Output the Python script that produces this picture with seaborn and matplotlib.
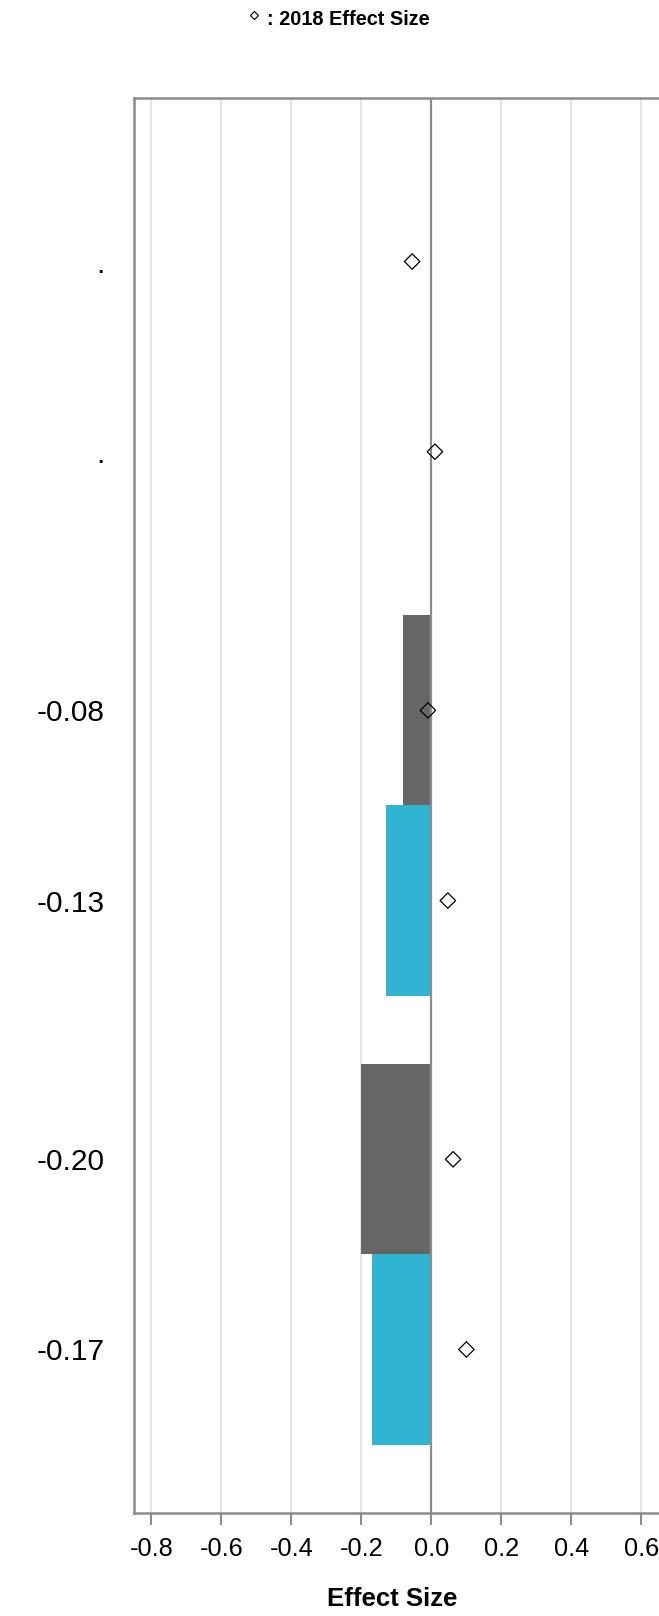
import numpy as np
import pandas as pd
import matplotlib as mpl
mpl.use('Agg')
import matplotlib.pyplot as plt
from matplotlib.lines import Line2D
from matplotlib.ticker import FormatStrFormatter
import seaborn as sns

# values
row_labels = [".", ".", "-0.08", "-0.13", "-0.20", "-0.17"]
row_group = [0, 0, 1, 1, 2, 2]           # rows come in pairs with a gap between
bar_values = [np.nan, np.nan, -0.08, -0.13, -0.20, -0.17]
bar_kind = ["none", "none", "gray", "blue", "gray", "blue"]
effect_2018 = [-0.055, 0.01, -0.01, 0.047, 0.062, 0.10]
x_ticks = [-0.8, -0.6, -0.4, -0.2, 0.0, 0.2, 0.4, 0.6, 0.8]

gap = 0.36
pos = [i + gap * g for i, g in enumerate(row_group)]

sns.set_theme(style="white")
plt.rcParams['font.family'] = ['Liberation Sans', 'DejaVu Sans']
plt.rcParams['axes.unicode_minus'] = False
plt.rcParams['text.color'] = 'black'
plt.rcParams['xtick.labelcolor'] = 'black'
plt.rcParams['ytick.labelcolor'] = 'black'

spine_col = '#8c8c8c'
grid_col = '#e4e4e4'

fig = plt.figure(figsize=(6.59, 16.16), dpi=100)
ax = fig.add_axes([0.2032, 0.0637, 0.9029, 0.8757])

for t in x_ticks:
    if t != 0.0:
        ax.axvline(t, color=grid_col, lw=1.5, zorder=0)

df = pd.DataFrame({'value': bar_values, 'pos': pos, 'kind': bar_kind}).dropna()
sns.barplot(data=df, x='value', y='pos', hue='kind', orient='y',
            native_scale=True, dodge=False, width=1.0, errorbar=None,
            palette={'gray': '#666666', 'blue': '#2fb5d2'}, saturation=1,
            linewidth=0, legend=False, ax=ax, zorder=2)

ax.axvline(0, color=spine_col, lw=1.6, zorder=3)

sns.scatterplot(x=effect_2018, y=pos, marker='D', s=62, ax=ax, zorder=4)
pts = ax.collections[-1]
pts.set_facecolor('none')
pts.set_edgecolor('black')
pts.set_linewidth(0.9)

ax.set_xlim(-0.85, 0.85)
ax.set_ylim(pos[-1] + 0.5 + gap, pos[0] - 0.5 - gap)

ax.set_xticks(x_ticks)
ax.xaxis.set_major_formatter(FormatStrFormatter('%.1f'))
ax.tick_params(axis='x', length=8.5, width=1.5, color=spine_col,
               labelsize=18.3, pad=9, bottom=True)
ax.set_yticks(pos)
ax.set_yticklabels(row_labels)
ax.tick_params(axis='y', length=0, labelsize=21.5, pad=21)
ax.set_xlabel('')
ax.set_ylabel('')

for side in ['left', 'top', 'bottom', 'right']:
    ax.spines[side].set_color(spine_col)
    ax.spines[side].set_linewidth(1.8)

fig.text(392 / 659, 1 - 1599 / 1616, 'Effect Size', ha='center', va='center',
         fontsize=18.5, fontweight='bold')

# legend line at the top
fig.add_artist(Line2D([253.7 / 659], [1 - 15 / 1616], marker='D', ms=4,
                      mfc='none', mec='black', mew=0.8, ls='none',
                      transform=fig.transFigure))
fig.text(267 / 659, 1 - 25 / 1616, ': 2018 Effect Size', ha='left',
         va='baseline', fontsize=14.3, fontweight='bold')

fig.savefig('out.png', dpi=100)
